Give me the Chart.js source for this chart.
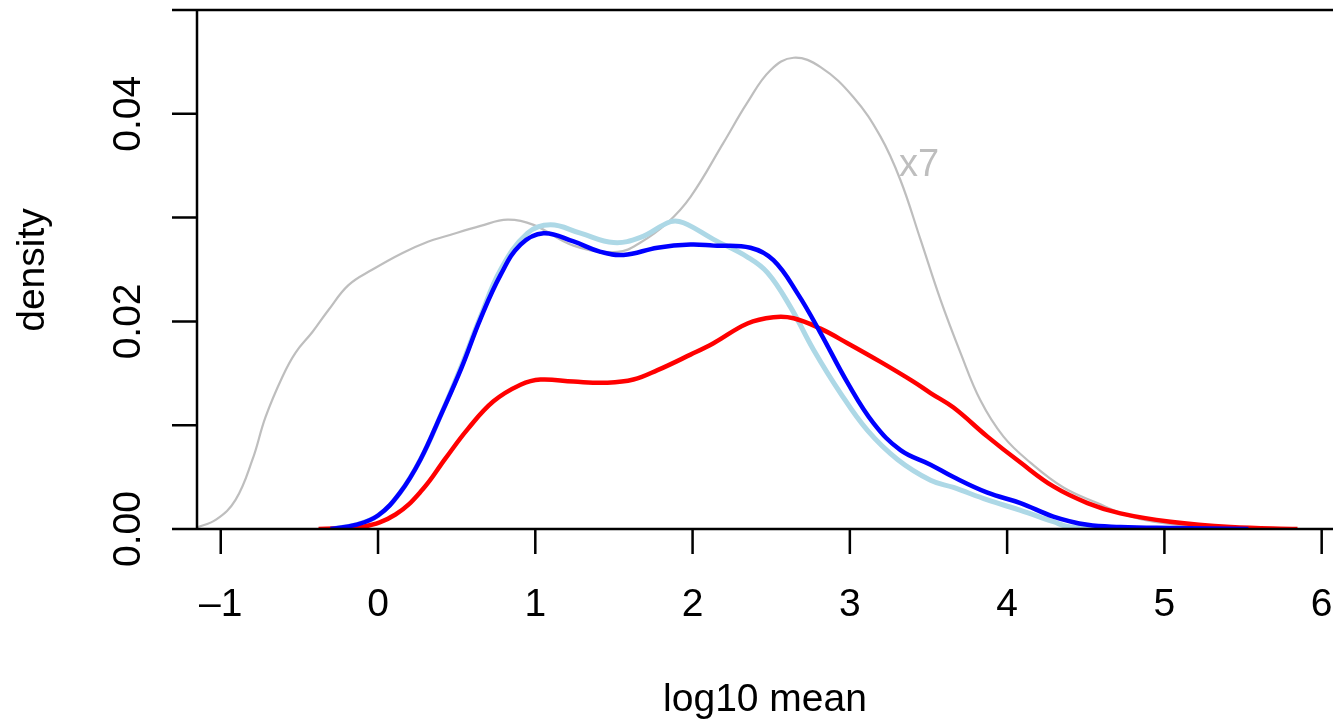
<!DOCTYPE html>
<html>
<head>
<meta charset="utf-8">
<title>log10 mean density</title>
<script src="https://cdn.jsdelivr.net/npm/chart.js@4/dist/chart.umd.min.js"></script>
<style>
  html, body { margin: 0; padding: 0; background: #fff; }
  #wrap { width: 1333px; height: 721px; }
</style>
</head>
<body>
<div id="wrap"><canvas id="my-chart" width="1333" height="721"></canvas></div>
<script>
// Axis ticks
const xTicks = [-1, 0, 1, 2, 3, 4, 5, 6];
const yTicks = [0, 0.01, 0.02, 0.03, 0.04, 0.05];
const yTickLabels = ['0.00', '', '0.02', '', '0.04', ''];

// Grey curve (all, scaled x7)
const greyX = [-1.16, -1.03, -0.906, -0.798, -0.715, -0.607, -0.524, -0.416, -0.315, -0.188, -0.035, 0.156, 0.321, 0.429, 0.652, 0.823, 0.989, 1.243, 1.523, 1.669, 1.84, 1.987, 2.196, 2.349, 2.495, 2.642, 2.814, 3.023, 3.195, 3.322, 3.449, 3.576, 3.703, 3.83, 3.977, 4.148, 4.358, 4.574, 4.765, 4.93, 5.229, 5.547];
const greyY = [0.0001, 0.0009, 0.0028, 0.0067, 0.0108, 0.0147, 0.017, 0.019, 0.0211, 0.0235, 0.025, 0.0266, 0.0277, 0.0282, 0.0292, 0.0298, 0.0293, 0.0273, 0.0267, 0.0276, 0.0295, 0.032, 0.0372, 0.0411, 0.0442, 0.0454, 0.0445, 0.0416, 0.0378, 0.0336, 0.0279, 0.0221, 0.017, 0.0124, 0.0089, 0.0064, 0.004, 0.0025, 0.0013, 0.0007, 0.0002, 0];

// Light blue curve
const lightX = [-0.302, -0.143, 0, 0.14, 0.27, 0.40, 0.53, 0.65, 0.78, 0.951, 1.097, 1.287, 1.497, 1.669, 1.859, 1.942, 2.133, 2.349, 2.476, 2.622, 2.768, 2.94, 3.112, 3.303, 3.513, 3.659, 3.875, 4.085, 4.294, 4.402, 4.784];
const lightY = [0, 0.0004, 0.0013, 0.0035, 0.0067, 0.011, 0.0157, 0.0204, 0.025, 0.0285, 0.0293, 0.0285, 0.0276, 0.0281, 0.0296, 0.0295, 0.0279, 0.0262, 0.0247, 0.0214, 0.0173, 0.0131, 0.0095, 0.0067, 0.0047, 0.004, 0.0028, 0.0018, 0.0007, 0.0002, 0];

// Blue curve
const blueX = [-0.302, -0.143, 0, 0.14, 0.27, 0.40, 0.53, 0.65, 0.78, 0.906, 1.052, 1.243, 1.415, 1.561, 1.777, 1.987, 2.133, 2.368, 2.514, 2.667, 2.813, 2.985, 3.15, 3.322, 3.513, 3.659, 3.875, 4.085, 4.294, 4.511, 4.72, 5.038, 5.534];
const blueY = [0, 0.0004, 0.0013, 0.0035, 0.0067, 0.011, 0.0155, 0.0202, 0.0245, 0.0274, 0.0285, 0.0277, 0.0267, 0.0264, 0.0271, 0.0274, 0.0273, 0.0271, 0.0259, 0.0227, 0.0189, 0.0141, 0.0102, 0.0076, 0.0062, 0.005, 0.0035, 0.0025, 0.0012, 0.0004, 0.0002, 0.0001, 0];

// Red curve
const redX = [-0.378, -0.099, 0.111, 0.283, 0.429, 0.569, 0.734, 0.906, 1.033, 1.243, 1.459, 1.624, 1.777, 1.987, 2.133, 2.349, 2.514, 2.642, 2.813, 2.985, 3.195, 3.404, 3.513, 3.659, 3.875, 4.085, 4.294, 4.511, 4.72, 5.038, 5.42, 5.846];
const redY = [0, 0.0002, 0.0014, 0.0038, 0.0068, 0.0096, 0.0123, 0.0139, 0.0144, 0.0142, 0.0141, 0.0144, 0.0153, 0.0168, 0.0179, 0.0198, 0.0204, 0.0203, 0.0193, 0.0179, 0.0161, 0.0142, 0.0131, 0.0117, 0.0089, 0.0064, 0.0041, 0.0025, 0.0015, 0.0007, 0.0002, 0];

const FONT = '"Liberation Sans", Arial, Helvetica, sans-serif';

// Zip two arrays into {x, y} points
const toPoints = (xs, ys) => xs.map((x, i) => ({ x, y: ys[i] }));

// Build one smooth line dataset
function line(xs, ys, color, width) {
  return {
    data: toPoints(xs, ys),
    borderColor: color,
    borderWidth: width,
    pointRadius: 0,
    fill: false,
    tension: 0.4,
    borderCapStyle: 'butt',
    borderJoinStyle: 'round'
  };
}

// Draw R-style axes, labels and the x7 note
const baseAxes = {
  id: 'baseAxes',
  afterDraw(chart) {
    const { ctx, chartArea, scales } = chart;
    const xs = scales.x, ys = scales.y;
    const y0 = ys.getPixelForValue(0);
    const yTop = ys.getPixelForValue(0.05);
    ctx.save();
    ctx.strokeStyle = '#000';
    ctx.lineWidth = 2.5;
    ctx.lineCap = 'butt';

    // y axis line and ticks
    ctx.beginPath();
    ctx.moveTo(chartArea.left, yTop);
    ctx.lineTo(chartArea.left, y0);
    yTicks.forEach((v) => {
      const py = ys.getPixelForValue(v);
      ctx.moveTo(chartArea.left - 25, py);
      ctx.lineTo(chartArea.left, py);
    });
    // bottom and top lines
    ctx.moveTo(chartArea.left, y0);
    ctx.lineTo(chartArea.right, y0);
    ctx.moveTo(chartArea.left, yTop);
    ctx.lineTo(chartArea.right, yTop);
    // x ticks
    xTicks.forEach((v) => {
      const px = xs.getPixelForValue(v);
      ctx.moveTo(px, y0);
      ctx.lineTo(px, y0 + 25);
    });
    ctx.stroke();

    ctx.fillStyle = '#000';
    ctx.font = '39px ' + FONT;

    // x tick labels
    ctx.textAlign = 'center';
    ctx.textBaseline = 'alphabetic';
    xTicks.forEach((v) => {
      const label = v < 0 ? '\u2013' + Math.abs(v) : String(v);
      ctx.fillText(label, xs.getPixelForValue(v), 616);
    });

    // y tick labels, rotated
    yTicks.forEach((v, i) => {
      if (!yTickLabels[i]) return;
      ctx.save();
      ctx.translate(140, ys.getPixelForValue(v));
      ctx.rotate(-Math.PI / 2);
      ctx.fillText(yTickLabels[i], 0, 0);
      ctx.restore();
    });

    // axis titles
    ctx.fillText('log10 mean', (xs.getPixelForValue(-1.151) + xs.getPixelForValue(6.072)) / 2, 711);
    ctx.save();
    ctx.translate(44, 270);
    ctx.rotate(-Math.PI / 2);
    ctx.fillText('density', 0, 0);
    ctx.restore();

    // x7 note on the grey curve
    ctx.fillStyle = '#bebebe';
    ctx.font = '38px ' + FONT;
    ctx.textAlign = 'left';
    ctx.fillText('x7', 899, 176);
    ctx.restore();
  }
};

new Chart(document.getElementById('my-chart').getContext('2d'), {
  type: 'line',
  data: {
    datasets: [
      line(blueX, blueY, '#0000ff', 4.5),
      line(redX, redY, '#ff0000', 4.5),
      line(lightX, lightY, '#add8e6', 5),
      line(greyX, greyY, '#bebebe', 2.2)
    ]
  },
  options: {
    responsive: false,
    animation: false,
    events: [],
    layout: { padding: { left: 197, right: 0, top: 10, bottom: 192 } },
    plugins: { legend: { display: false }, tooltip: { enabled: false } },
    scales: {
      x: { type: 'linear', min: -1.151, max: 6.072, display: false },
      y: { type: 'linear', min: 0, max: 0.05, display: false }
    }
  },
  plugins: [baseAxes]
});
</script>
</body>
</html>
